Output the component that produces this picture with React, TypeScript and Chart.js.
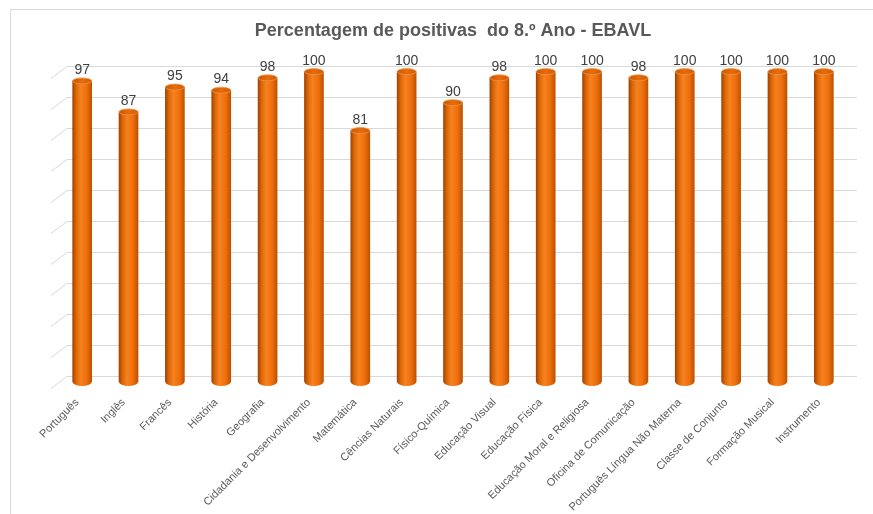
import React, { useEffect, useRef } from "react";
import { Chart, registerables } from "chart.js";

Chart.register(...registerables);

const categories: string[] = [
  "Português",
  "Inglês",
  "Francês",
  "História",
  "Geografia",
  "Cidadania e Desenvolvimento",
  "Matemática",
  "Cências Naturais",
  "Físico-Química",
  "Educação Visual",
  "Educação Física",
  "Educação Moral e Religiosa",
  "Oficina de Comunicação",
  "Português Língua Não Materna",
  "Classe de Conjunto",
  "Formação Musical",
  "Instrumento",
];

const positivas: number[] = [97, 87, 95, 94, 98, 100, 81, 100, 90, 98, 100, 100, 98, 100, 100, 100, 100];

const yTicks: number[] = [0, 10, 20, 30, 40, 50, 60, 70, 80, 90, 100];

const TITLE = "Percentagem de positivas  do 8.º Ano - EBAVL";
const FONT = "'Liberation Sans', Arial, sans-serif";
const BAR_W = 19;

function barGradient(c: CanvasRenderingContext2D, x: number) {
  const g = c.createLinearGradient(x - BAR_W / 2, 0, x + BAR_W / 2, 0);
  g.addColorStop(0, "#a44300");
  g.addColorStop(0.18, "#dc6606");
  g.addColorStop(0.42, "#f6821f");
  g.addColorStop(0.75, "#ee6d0c");
  g.addColorStop(1, "#bd5200");
  return g;
}

function topGradient(c: CanvasRenderingContext2D, x: number) {
  const g = c.createLinearGradient(x - BAR_W / 2, 0, x + BAR_W / 2, 0);
  g.addColorStop(0, "#c85700");
  g.addColorStop(0.5, "#e56c0c");
  g.addColorStop(1, "#cf5c00");
  return g;
}

const framePlugin = {
  id: "frame3d",
  beforeDraw(chart: any) {
    const c: CanvasRenderingContext2D = chart.ctx;
    const y = chart.scales.y;
    const area = chart.chartArea;
    c.save();
    c.fillStyle = "#ffffff";
    c.fillRect(0, 0, chart.width, chart.height);
    c.strokeStyle = "#d9d9d9";
    c.lineWidth = 1;
    c.beginPath();
    c.moveTo(10.5, chart.height);
    c.lineTo(10.5, 9.5);
    c.lineTo(chart.width, 9.5);
    c.stroke();
    for (const v of yTicks) {
      const py = Math.round(y.getPixelForValue(v) - 6) + 0.5;
      const wallLeft = area.left + 8;
      c.beginPath();
      c.moveTo(wallLeft - 16, py + 12);
      c.lineTo(wallLeft, py);
      c.lineTo(area.right + 10, py);
      c.stroke();
    }
    c.restore();
  },
  afterDatasetsDraw(chart: any) {
    const c: CanvasRenderingContext2D = chart.ctx;
    const meta = chart.getDatasetMeta(0);
    const ys = chart.scales.y;
    const base = ys.getPixelForValue(0);
    c.save();
    meta.data.forEach((bar: any, i: number) => {
      const x = bar.x;
      const top = bar.y;
      c.beginPath();
      c.ellipse(x, base, BAR_W / 2, 4, 0, 0, Math.PI);
      c.fillStyle = barGradient(c, x);
      c.fill();
      c.beginPath();
      c.ellipse(x, top, BAR_W / 2, 3, 0, 0, Math.PI * 2);
      c.fillStyle = topGradient(c, x);
      c.fill();
      c.strokeStyle = "#f39448";
      c.lineWidth = 0.8;
      c.stroke();
      c.fillStyle = "#404040";
      c.font = `14px ${FONT}`;
      c.textAlign = "center";
      c.textBaseline = "alphabetic";
      c.fillText(String(positivas[i]), x, top - 7);
    });
    c.restore();
  },
};

export default function App() {
  const ref = useRef<HTMLCanvasElement | null>(null);

  useEffect(() => {
    document.body.style.margin = "0";
    const canvas = ref.current;
    if (!canvas) return;
    const chart = new Chart(canvas, {
      type: "bar",
      data: {
        labels: categories,
        datasets: [
          {
            data: positivas,
            barThickness: BAR_W,
            borderWidth: 0,
            backgroundColor: (ctx: any) => {
              const xs = ctx.chart.scales?.x;
              if (!xs || ctx.dataIndex === undefined) return "#ee6d0c";
              const x = xs.getPixelForValue(ctx.dataIndex);
              if (!isFinite(x)) return "#ee6d0c";
              return barGradient(ctx.chart.ctx, x);
            },
          },
        ],
      },
      options: {
        responsive: false,
        animation: false,
        layout: { padding: { left: 59, right: 26, top: 0, bottom: 0 } },
        plugins: {
          legend: { display: false },
          tooltip: { enabled: false },
          title: {
            display: true,
            text: TITLE,
            color: "#595959",
            font: { family: FONT, size: 18, weight: "bold" },
            padding: { top: 20, bottom: 30 },
          },
        },
        scales: {
          x: {
            offset: true,
            grid: { display: false },
            border: { display: false },
            ticks: {
              color: "#595959",
              font: { family: FONT, size: 11 },
              minRotation: 45,
              maxRotation: 45,
              autoSkip: false,
              padding: 6,
              labelOffset: -5,
            },
            afterFit: (scale: any) => {
              scale.height = 132;
            },
          },
          y: {
            display: false,
            min: 0,
            max: 100,
            ticks: { stepSize: 10 },
          },
        },
      },
      plugins: [framePlugin],
    });
    return () => chart.destroy();
  }, []);

  return (
    <div style={{ width: 873, height: 514 }}>
      <canvas ref={ref} width={873} height={514} style={{ display: "block" }} />
    </div>
  );
}
